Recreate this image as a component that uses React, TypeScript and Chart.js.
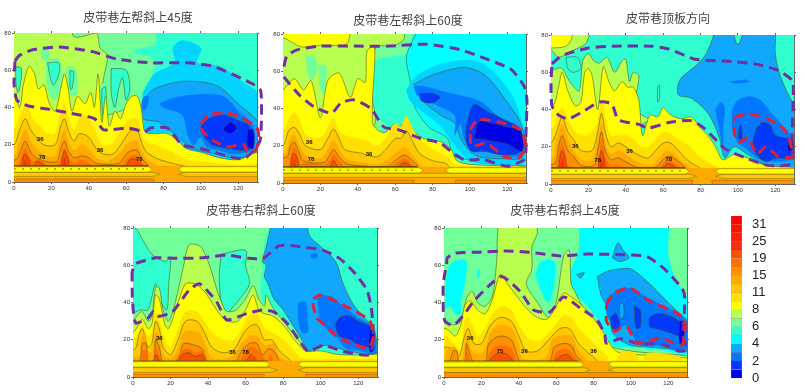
import React, { useEffect, useRef } from "react";
import { Chart, registerables } from "chart.js";

Chart.register(...registerables);

type Layer = [number, number[]];

const bandColors = ["#0000e6", "#0038ff", "#0078ff", "#10a8ff", "#00ffff", "#30ffd0", "#70ff98", "#b8ff50", "#ffff00", "#ffe000", "#ffc800", "#ffaa00", "#ff9000", "#ff7000", "#ff5000", "#f03010", "#ff2000", "#ff1000", "#ff0000", "#00d4ff"];
const contourBands = [0, 1, 3, 5, 7, 8, 10, 12, 14];
const legendTicks = ["0", "2", "4", "6", "8", "11", "15", "19", "25", "31"];
const xTop = 130;
const yTop = 80;

const full = [-8, -8, 138, -8, 138, 88, -8, 88, -8, -8];

const p1Layers: Layer[] = [
  [5, full],
  [19, [69, 48, 75, 58, 86, 64, 85, 72, 90, 76, 100, 72, 98, 64, 110, 62, 122, 54, 132, 46, 133, 25, 128, 10, 115, 9, 100, 12, 90, 18, 84, 26, 75, 26, 68, 24, 69, 48]],
  [3, [69, 44, 75, 50, 90, 54, 108, 52, 120, 42, 132, 30, 132, 16, 118, 13, 108, 15, 96, 18, 88, 24, 78, 32, 69, 34, 68, 40, 69, 44]],
  [2, [78, 42, 85, 45, 98, 47, 112, 46, 120, 38, 128, 30, 128, 18, 118, 15, 110, 17, 103, 19, 100, 24, 96, 20, 93, 25, 90, 36, 80, 40, 78, 42]],
  [2, [69, 38, 69, 45, 72, 46, 71, 40, 69, 38]],
  [1, [100, 30, 104, 34, 112, 36, 120, 33, 126, 30, 128, 20, 124, 17, 115, 18, 106, 20, 102, 24, 100, 30]],
  [0, [113, 30, 116, 32, 119, 29, 116, 26, 112, 28, 113, 30]],
  [0, [125, 28, 128, 28, 128, 18, 125, 19, 125, 28]],
  [6, [-8, 88, 69, 88, 76, 75, 63, 70, 75, 66, 74, 58, 68, 46, 69, 26, 60, 8, -8, 8, -8, 88]],
  [7, [-8, 88, 30, 88, 32, 78, 44, 80, 46, 72, 50, 68, 48, 56, 46, 36, 66, 40, 66, 30, 40, 20, -8, 20, -8, 88]],
  [6, [17, 66, 24, 66, 26, 55, 22, 44, 18, 50, 17, 66]],
  [6, [28, 62, 33, 61, 34, 48, 31, 46, 28, 50, 28, 62]],
  [6, [46, 52, 50, 53, 50, 38, 48, 32, 46, 40, 46, 52]],
  [6, [50, 63, 61, 64, 68, 60, 66, 44, 60, 40, 54, 38, 50, 48, 50, 63]],
  [6, [15, 72, 19, 70, 18, 66, 15, 66, 15, 72]],
  [5, [1, 62, 4, 61, 3, 50, 2, 48, 1, 54, 1, 62]],
  [5, [18, 64, 24, 64, 24, 58, 21, 52, 19, 58, 18, 64]],
  [5, [30, 60, 32, 59, 31, 50, 30, 50, 30, 60]],
  [5, [47, 50, 49, 51, 49, 40, 48, 34, 47, 42, 47, 50]],
  [5, [52, 61, 60, 60, 62, 50, 60, 44, 58, 56, 56, 50, 54, 40, 52, 48, 52, 61]],
  [8, [-8, 30, 0, 46, 3, 40, 5, 52, 8, 62, 11, 58, 13, 50, 16, 52, 19, 42, 22, 38, 25, 50, 27, 58, 29, 50, 31, 38, 34, 46, 38, 42, 41, 48, 43, 40, 45, 58, 47, 32, 49, 46, 51, 30, 54, 38, 57, 34, 60, 42, 63, 46, 66, 46, 68, 40, 70, 27, 75, 26, 82, 26, 88, 22, 92, 18, 100, 16, 110, 13, 120, 12, 130, 16, 138, 16, 138, 5, -8, 5, -8, 30]],
  [9, [-8, 22, 0, 28, 4, 38, 7, 42, 10, 34, 14, 30, 18, 26, 22, 26, 25, 38, 27, 42, 29, 36, 32, 28, 36, 36, 40, 34, 44, 26, 47, 20, 52, 20, 56, 26, 60, 32, 63, 34, 66, 34, 68, 28, 70, 22, 75, 20, 85, 16, 92, 12, 100, 11, 120, 9, 138, 10, 138, 5, -8, 5, -8, 22]],
  [10, [-8, 18, 0, 20, 3, 28, 6, 34, 9, 28, 12, 24, 16, 20, 22, 20, 25, 30, 27, 34, 29, 28, 32, 22, 35, 26, 40, 24, 44, 18, 48, 15, 53, 15, 57, 20, 61, 26, 63, 28, 66, 28, 68, 22, 71, 16, 78, 12, 85, 10, 92, 8, 85, 5, -8, 5, -8, 18]],
  [11, [-8, 14, 0, 14, 3, 22, 6, 28, 9, 22, 12, 18, 17, 14, 22, 14, 25, 24, 27, 28, 29, 22, 32, 17, 36, 20, 40, 18, 44, 13, 50, 11, 56, 15, 60, 20, 63, 22, 66, 22, 68, 17, 71, 12, 76, 9, 70, 6, -8, 6, -8, 14]],
  [12, [-8, 12, 1, 12, 4, 18, 6, 22, 9, 16, 12, 13, 17, 11, 23, 11, 25, 18, 27, 22, 29, 17, 32, 13, 36, 14, 40, 13, 44, 10, 56, 10, 60, 15, 63, 17, 66, 17, 68, 13, 71, 9, 60, 7, -8, 7, -8, 12]],
  [13, [2, 8, 4, 14, 6, 18, 8, 14, 10, 11, 14, 12, 18, 9, 24, 10, 26, 15, 27, 18, 29, 14, 32, 10, 36, 12, 40, 10, 44, 8, 58, 8, 60, 12, 63, 14, 66, 14, 69, 8, 2, 8]],
  [14, [4, 8, 5, 14, 6, 15, 8, 12, 8, 8, 4, 8]],
  [14, [11, 8, 12, 11, 15, 10, 17, 8, 11, 8]],
  [14, [25, 8, 26, 14, 27, 17, 29, 12, 29, 8, 25, 8]],
  [14, [60, 8, 62, 12, 66, 12, 68, 8, 60, 8]],
  [15, [26, 9, 27, 13, 28, 9, 26, 9]],
  [15, [5, 9, 6, 12, 7, 9, 5, 9]],
];
const p1Stripes: Layer[] = [
  [11, [-8, -8, 138, -8, 138, 8.6, -8, 8.6, -8, -8]],
  [10, [-8, 3, 74, 3, 78, 4.2, 74, 5.2, -8, 5.2, -8, 3]],
  [10, [92, 3, 138, 3, 138, 5.2, 92, 5.2, 88, 4.2, 92, 3]],
  [8, [-8, 5.4, 72, 5.4, 74, 6.8, 72, 8.2, -8, 8.2, -8, 5.4]],
  [8, [90, 5.4, 138, 5.4, 138, 8.2, 90, 8.2, 88, 6.8, 90, 5.4]],
  [12, [-8, -8, 72, -8, 75, 1.5, -8, 1.5, -8, -8]],
];
const p1Purple = [0.5, 65, 3, 68, 10, 71, 24, 72.5, 42, 70, 55, 66, 73, 64, 93, 64, 107, 62, 127, 53, 132, 49, 132, 24, 130, 19, 123, 12.5, 114, 14, 100, 18, 90, 20, 82, 29, 73, 29, 70, 27, 61, 29, 48, 28, 43, 34, 30, 37, 19, 39, 7, 41, 1.5, 44, 0, 53, 0.5, 65];
const p1Red = [100, 31, 104, 36, 114, 37, 121, 35, 130, 29, 131, 22, 129, 17, 125, 16, 123, 20, 114, 19, 107, 22, 101, 27, 100, 31];
const p1Notes: [string, number, number][] = [["36", 14, 23], ["78", 15, 13], ["36", 46, 17], ["78", 67, 12]];

const p2Layers: Layer[] = [
  [4, full],
  [5, [-8, 88, 72, 88, 66, 68, 68, 55, 70, 42, 78, 30, 88, 24, 92, 14, 138, 8, -8, 5, -8, 88]],
  [6, [-8, 88, 68, 88, 66, 70, 60, 68, 50, 66, 47, 58, 48, 45, 51, 35, 55, 30, -8, 5, -8, 88]],
  [7, [-8, 88, 62, 88, 65, 78, 60, 74, 50, 73, 48, 66, 47, 50, 48, 30, -8, 5, -8, 88]],
  [6, [12, 68, 17, 68, 18, 60, 15, 55, 13, 60, 12, 68]],
  [6, [19, 63, 23, 63, 22, 48, 20, 50, 19, 63]],
  [8, [-8, 88, 35, 88, 35, 76, 32, 74, 20, 74, 10, 73, 0, 78, -8, 78, -8, 88]],
  [19, [66, 50, 72, 58, 85, 64, 100, 66, 110, 62, 122, 48, 128, 32, 130, 18, 128, 10, 110, 10, 100, 12, 92, 20, 85, 30, 75, 38, 68, 44, 66, 50]],
  [3, [70, 53, 80, 58, 90, 61, 98, 62, 108, 58, 118, 46, 128, 30, 128, 14, 118, 13, 105, 14, 100, 17, 95, 24, 92, 32, 85, 36, 75, 44, 70, 53]],
  [2, [70, 52, 75, 52, 90, 48, 105, 44, 115, 36, 127, 29, 128, 15, 118, 15, 108, 17, 102, 18, 97, 24, 95, 32, 92, 26, 92, 36, 82, 42, 72, 47, 70, 52]],
  [1, [73, 48, 80, 48, 84, 46, 80, 43, 74, 44, 73, 48]],
  [1, [98, 30, 102, 42, 110, 38, 118, 34, 127, 29, 127, 17, 118, 15, 108, 17, 101, 17, 98, 22, 98, 30]],
  [0, [102, 24, 105, 33, 112, 32, 120, 30, 127, 28, 128, 17, 120, 21, 110, 23, 103, 24, 102, 24]],
  [8, [-8, 45, 0, 50, 6, 56, 11, 50, 15, 55, 20, 35, 24, 55, 30, 59, 36, 46, 40, 56, 44, 54, 45, 71, 49, 73, 48, 32, 54, 27, 60, 32, 62, 30, 66, 33, 68, 30, 75, 24, 85, 22, 90, 18, 93, 12, 100, 10, 138, 8, 138, 4, -8, 4, -8, 45]],
  [9, [-8, 26, 0, 28, 3, 34, 6, 38, 9, 34, 12, 26, 18, 24, 22, 26, 25, 32, 27, 35, 29, 30, 32, 26, 40, 24, 46, 22, 50, 20, 55, 24, 60, 32, 63, 30, 66, 36, 69, 30, 73, 24, 80, 18, 88, 14, 92, 10, 138, 8, 138, 5, -8, 5, -8, 26]],
  [10, [-8, 18, 0, 20, 3, 28, 6, 30, 9, 26, 12, 20, 20, 18, 24, 24, 27, 29, 30, 24, 33, 18, 42, 16, 50, 14, 55, 18, 60, 24, 63, 24, 66, 28, 69, 23, 73, 16, 80, 12, 88, 10, 88, 5, -8, 5, -8, 18]],
  [11, [-8, 16, 1, 16, 4, 24, 6, 26, 8, 22, 12, 15, 20, 13, 24, 18, 27, 23, 30, 18, 34, 13, 42, 11, 50, 10, 55, 12, 60, 16, 65, 19, 69, 15, 73, 10, 75, 7, -8, 7, -8, 16]],
  [12, [-8, 14, 2, 14, 4, 20, 6, 22, 8, 18, 11, 12, 22, 11, 25, 15, 27, 18, 30, 14, 35, 10, 56, 9, 60, 12, 65, 15, 69, 12, 72, 9, 60, 7, -8, 7, -8, 14]],
  [13, [3, 8, 5, 18, 6, 19, 8, 15, 9, 10, 13, 11, 22, 9.5, 25, 12, 27, 15, 30, 12, 34, 8, 57, 8, 60, 10, 65, 13, 69, 10, 71, 8, 3, 8]],
  [14, [4, 8, 5, 15, 6, 16, 8, 12, 8, 8, 4, 8]],
  [14, [25, 8, 27, 12, 29, 8, 25, 8]],
  [14, [61, 8, 65, 11, 69, 8, 61, 8]],
  [15, [5, 8, 6, 12, 7, 8, 5, 8]],
];
const p2Stripes: Layer[] = [
  [11, [-8, -8, 138, -8, 138, 8.6, -8, 8.6, -8, -8]],
  [10, [-8, 3, 138, 3, 138, 5.2, -8, 5.2, -8, 3]],
  [8, [-8, 5.4, 73, 5.4, 75, 6.8, 73, 8.2, -8, 8.2, -8, 5.4]],
  [8, [89, 5.4, 138, 5.4, 138, 8.2, 89, 8.2, 87, 6.8, 89, 5.4]],
  [12, [-8, -8, 68, -8, 70, 1.5, -8, 1.5, -8, -8]],
  [12, [94, -8, 138, -8, 138, 1.5, 92, 1.5, 94, -8]],
];
const p2Purple = [0.5, 62.5, 2, 68, 7.5, 71.5, 20, 73.5, 38, 73.5, 56, 73.5, 77, 74.5, 95, 71.5, 109, 66.5, 122, 61, 129, 52, 130.5, 44.6, 130, 27, 130, 18, 129, 12.5, 120, 9, 107.5, 12.5, 97, 12.5, 91, 16, 84, 21.5, 73.5, 24, 62, 28.5, 54, 30, 47, 40, 38, 44.6, 31, 43, 26, 37.5, 16.5, 41, 9, 47, 0.4, 57];
const p2Red = [100, 28.5, 104, 34, 114.6, 33, 127, 28.5, 130, 19.6, 126, 13.4, 118, 14.3, 109, 21.4, 101, 19.6, 100, 28.5];
const p2Notes: [string, number, number][] = [["36", 14, 22], ["78", 15, 12.5], ["36", 46, 15.5]];

const p3Layers: Layer[] = [
  [5, full],
  [3, [88, 88, 87, 80, 83, 70, 78, 64, 69, 56, 68, 48, 75, 46, 84, 38, 90, 25, 93, 14, 98, 20, 105, 16, 115, 10, 130, 8, 138, 10, 138, 30, 128, 46, 122, 60, 120, 70, 119, 88, 106, 88, 100, 75, 95, 88, 88, 88]],
  [5, [57, 52, 58, 53, 58, 46, 57, 44, 57, 52]],
  [2, [88, 40, 91, 44, 93, 40, 92, 30, 92, 20, 90, 30, 88, 40]],
  [2, [97, 40, 100, 45, 106, 47, 112, 45, 118, 38, 125, 30, 130, 24, 130, 14, 120, 12, 112, 13, 108, 16, 103, 20, 100, 22, 97, 30, 97, 40]],
  [2, [96, 55, 104, 56, 106, 55, 98, 54, 96, 55]],
  [1, [110, 30, 113, 33, 117, 32, 120, 26, 128, 24, 130, 20, 130, 14, 120, 14, 115, 12, 110, 16, 108, 22, 110, 30]],
  [1, [100, 25, 101, 32, 102, 30, 102, 23, 100, 25]],
  [0, [127, 24, 129, 24, 129, 18, 127, 18, 127, 24]],
  [7, [-8, 88, 20, 88, 19, 76, 10, 71, 4, 68, 0, 72, -8, 72, -8, 88]],
  [5, [8, 68, 14, 68, 16, 62, 12, 60, 9, 62, 8, 68]],
  [7, [-8, 40, 0, 60, 3, 62, 6, 62, 10, 55, 15, 50, 17, 66, 20, 70, 23, 66, 26, 65, 30, 68, 34, 60, 38, 66, 40, 67, 42, 55, 44, 60, 47, 58, 45, 40, 52, 34, -8, 5, -8, 40]],
  [8, [-8, 88, 11, 88, 11, 78, 8, 74, 0, 73, -8, 73, -8, 88]],
  [8, [-8, 42, 1, 42, 4, 52, 6, 60, 9, 50, 13, 42, 16, 44, 18, 60, 20, 62, 22, 58, 25, 40, 28, 63, 31, 55, 34, 50, 38, 55, 41, 52, 44, 52, 47, 45, 49, 26, 53, 37, 57, 36, 60, 41, 63, 38, 66, 36, 70, 35, 75, 36, 80, 30, 84, 26, 88, 20, 92, 13, 98, 16, 105, 14, 115, 10, 138, 8, 138, 4, -8, 4, -8, 42]],
  [9, [-8, 30, 1, 30, 3, 36, 6, 41, 9, 35, 13, 28, 18, 26, 22, 28, 25, 34, 27, 45, 29, 36, 32, 26, 36, 26, 40, 26, 44, 24, 48, 20, 52, 20, 56, 24, 60, 28, 64, 27, 68, 24, 72, 22, 78, 16, 85, 11, 90, 8, 80, 5, -8, 5, -8, 30]],
  [10, [-8, 20, 0, 22, 3, 28, 6, 36, 9, 28, 12, 24, 16, 18, 22, 18, 25, 28, 27, 38, 29, 28, 32, 20, 36, 22, 40, 20, 46, 16, 52, 14, 56, 18, 60, 22, 64, 22, 68, 18, 74, 12, 80, 8, 70, 5, -8, 5, -8, 20]],
  [11, [-8, 14, 1, 14, 3, 24, 6, 32, 9, 24, 12, 18, 16, 13, 22, 13, 25, 24, 27, 32, 29, 22, 32, 16, 36, 18, 40, 16, 46, 12, 54, 10, 58, 14, 62, 18, 66, 16, 70, 12, 74, 9, 60, 7, -8, 7, -8, 14]],
  [12, [-8, 11, 2, 11, 4, 20, 6, 26, 9, 18, 12, 15, 16, 10, 23, 10, 25, 18, 27, 28, 29, 18, 32, 13, 36, 14, 40, 12, 46, 9, 56, 9, 60, 13, 63, 15, 67, 13, 71, 9, 60, 7, -8, 7, -8, 11]],
  [13, [3, 8, 5, 20, 6, 22, 8, 16, 9, 10, 24, 8, 26, 16, 27, 24, 29, 15, 32, 10, 36, 10, 42, 8, 57, 8, 60, 11, 63, 13, 66, 11, 70, 8, 3, 8]],
  [14, [4, 8, 5, 16, 6, 18, 8, 12, 8, 8, 4, 8]],
  [14, [25, 8, 27, 18, 29, 8, 25, 8]],
  [14, [59, 8, 63, 11, 67, 8, 59, 8]],
  [15, [5, 8, 6, 14, 7, 8, 5, 8]],
  [15, [26, 8, 27, 13, 28, 8, 26, 8]],
];
const p3Stripes: Layer[] = [
  [11, [-8, -8, 138, -8, 138, 8.6, -8, 8.6, -8, -8]],
  [10, [-8, 3, 74, 3, 78, 4.2, 74, 5.2, -8, 5.2, -8, 3]],
  [10, [92, 3, 138, 3, 138, 5.2, 92, 5.2, 88, 4.2, 92, 3]],
  [8, [-8, 5.4, 72, 5.4, 74, 6.8, 72, 8.2, -8, 8.2, -8, 5.4]],
  [8, [90, 5.4, 138, 5.4, 138, 8.2, 90, 8.2, 88, 6.8, 90, 5.4]],
  [12, [-8, -8, 72, -8, 76, 2, -8, 2, -8, -8]],
  [12, [88, -8, 138, -8, 138, 2, 86, 2, 88, -8]],
];
const p3Purple = [0.5, 64.5, 6, 69, 20, 73, 32.5, 74, 54, 74, 63, 72.5, 77, 67, 93, 66, 109, 64.5, 121.5, 61, 129.5, 54.6, 129, 27, 128.6, 11, 116, 10, 105.5, 13.5, 93, 19, 82.4, 29.6, 75, 34, 63, 33, 52, 30, 47, 32, 36, 34.5, 32.5, 43, 26, 44, 18, 39.5, 9.4, 35, 4, 37, 0.5, 42, 0, 54, 0.5, 64.5];
const p3Red = [98.4, 36, 105.5, 37.7, 116, 35, 125, 29, 128.6, 20, 129, 14.5, 121.5, 15, 115, 20, 110, 16, 105.5, 25, 101, 22.5, 98, 27, 98.4, 36];
const p3Notes: [string, number, number][] = [["36", 13, 20], ["78", 25, 12.5], ["36", 42, 17.5], ["78", 63, 13]];

const p4Layers: Layer[] = [
  [5, full],
  [6, [-8, 88, 72, 88, 70, 72, 69, 60, 68, 45, 72, 36, 78, 33, 90, 18, -8, 5, -8, 88]],
  [5, [-8, 80, 1, 80, 5, 74, 10, 66, 17, 62, 20, 64, 19, 50, 18, 36, 14, 42, 12, 50, 8, 36, 4, 36, -8, 32, -8, 80]],
  [5, [47, 66, 60, 68, 60, 60, 62, 50, 57, 42, 52, 36, 50, 32, 47, 40, 46, 55, 47, 66]],
  [3, [75, 88, 91, 88, 94, 76, 100, 70, 108, 62, 112, 50, 118, 38, 125, 30, 129, 24, 130, 12, 126, 12, 114, 14, 103, 17, 93, 14, 91, 18, 85, 28, 80, 36, 75, 42, 72, 50, 70, 54, 71, 60, 69, 62, 71, 70, 75, 88]],
  [2, [98, 42, 101, 44, 106, 43, 112, 38, 120, 32, 128, 26, 129, 12, 122, 14, 114, 15, 108, 22, 104, 25, 100, 30, 98, 42]],
  [2, [88, 40, 92, 40, 93, 30, 93, 24, 90, 24, 88, 32, 88, 40]],
  [2, [95, 66, 98, 66, 98, 64, 95, 64, 95, 66]],
  [1, [110, 32, 115, 33, 120, 30, 128, 26, 128, 18, 122, 16, 116, 20, 110, 22, 108, 28, 110, 32]],
  [0, [126, 25, 128, 26, 128, 14, 126, 14, 126, 25]],
  [7, [-8, 24, 0, 30, 3, 34, 5, 35, 8, 30, 10, 32, 12, 48, 14, 48, 16, 36, 19, 30, 23, 42, 27, 60, 30, 71, 36, 70, 40, 62, 42, 56, 45, 46, 49, 36, 51, 35, 55, 36, 60, 42, 64, 49, 67, 42, 70, 38, 71, 44, 74, 38, 80, 30, 88, 20, 92, 14, 60, 5, -8, 5, -8, 24]],
  [8, [-8, 22, 0, 24, 3, 28, 5, 31, 8, 26, 10, 28, 12, 44, 14, 42, 17, 28, 19, 26, 24, 40, 28, 50, 33, 50, 38, 46, 42, 40, 46, 34, 50, 30, 56, 30, 60, 36, 64, 44, 67, 36, 70, 34, 74, 33, 80, 28, 86, 20, 92, 14, 100, 14, 110, 12, 125, 12, 138, 12, 138, 4, -8, 4, -8, 22]],
  [9, [-8, 18, 0, 20, 3, 24, 5, 28, 8, 22, 10, 24, 12, 34, 14, 30, 17, 20, 20, 16, 24, 26, 28, 35, 34, 35, 38, 30, 42, 24, 48, 20, 54, 20, 58, 26, 62, 33, 66, 34, 70, 26, 74, 24, 80, 20, 86, 14, 90, 10, 138, 9, 138, 4, -8, 4, -8, 18]],
  [10, [-8, 14, 1, 15, 3, 22, 5, 26, 8, 16, 10, 18, 12, 30, 14, 26, 16, 16, 20, 12, 24, 20, 28, 30, 34, 30, 38, 24, 42, 16, 48, 13, 54, 15, 58, 22, 62, 27, 66, 28, 70, 20, 74, 20, 78, 14, 84, 8, 70, 5, -8, 5, -8, 14]],
  [11, [-8, 11, 3, 11, 4, 20, 6, 23, 8, 14, 10, 13, 12, 24, 14, 22, 16, 12, 20, 10, 24, 15, 27, 24, 35, 24, 39, 16, 42, 10, 50, 10, 54, 12, 58, 18, 62, 22, 66, 22, 70, 17, 75, 18, 78, 11, 82, 8, 60, 6, -8, 6, -8, 11]],
  [12, [4, 8, 5, 18, 7, 18, 8, 8, 11, 8, 12, 20, 14, 16, 16, 8, 22, 8, 25, 12, 27, 18, 33, 17, 37, 15, 40, 8, 54, 8, 58, 14, 62, 18, 66, 18, 69, 12, 72, 15, 75, 14, 77, 8, 4, 8]],
  [13, [5, 8, 5, 14, 7, 14, 7, 8, 5, 8]],
  [13, [11, 8, 12, 16, 14, 12, 15, 8, 11, 8]],
  [13, [23, 8, 26, 14, 30, 15, 33, 13, 37, 14, 39, 8, 23, 8]],
  [13, [57, 8, 60, 14, 63, 16, 67, 14, 70, 8, 57, 8]],
  [13, [72, 8, 73, 12, 75, 8, 72, 8]],
  [14, [11, 8, 12, 12, 14, 8, 11, 8]],
  [14, [24, 8, 26, 12, 30, 13, 33, 11, 37, 12, 38, 8, 24, 8]],
  [14, [60, 8, 63, 12, 66, 8, 60, 8]],
];
const p4Stripes: Layer[] = [
  [11, [-8, -8, 138, -8, 138, 8.6, -8, 8.6, -8, -8]],
  [10, [-8, 2.5, 73, 2.5, 77, 3.8, 73, 5, -8, 5, -8, 2.5]],
  [10, [92, 2.5, 138, 2.5, 138, 5, 92, 5, 88, 3.8, 92, 2.5]],
  [8, [-8, 5.4, 71, 5.4, 73, 6.8, 71, 8.2, -8, 8.2, -8, 5.4]],
  [8, [90, 5.4, 138, 5.4, 138, 8.2, 90, 8.2, 88, 6.8, 90, 5.4]],
  [12, [-8, -8, 68, -8, 70, 1.5, -8, 1.5, -8, -8]],
  [12, [94, -8, 138, -8, 138, 1.5, 92, 1.5, 94, -8]],
];
const p4Purple = [-0.5, 56.6, -0.3, 42, 1.4, 29, 8, 31.6, 10.7, 35, 13, 32.5, 21, 35, 30, 46.8, 35.6, 50, 44.5, 40.5, 50, 30.7, 60.5, 34, 69, 36, 75, 35, 82, 29, 89, 19, 93.4, 13.7, 101.4, 17, 112, 13.7, 126, 12, 128, 22.7, 127, 37, 124.6, 46.8, 117.4, 56.6, 110, 63.7, 101.4, 68, 89, 70, 78, 70.5, 69.4, 63.7, 61.4, 63.7, 50, 65.5, 37.4, 64, 23, 63.7, 12.5, 64, 1.8, 61, -0.5, 56.6];
const p4Red = [96, 42, 99.6, 44, 108.5, 40.5, 119, 35, 126.3, 30, 128, 21, 125.4, 15.5, 114, 19, 108.5, 21.8, 103, 27, 98, 31.6, 96, 38.7, 96, 42];
const p4Notes: [string, number, number][] = [["36", 14, 21], ["36", 53, 13], ["78", 60, 13]];

const p5Layers: Layer[] = [
  [6, full],
  [4, [-8, 30, 0, 36, 1, 50, 3, 60, 8, 63, 12, 62, 11, 50, 9, 40, 9, 34, 6, 34, 3, 38, -8, 30]],
  [4, [49, 55, 52, 62, 59, 62, 59, 51, 56, 40, 52, 46, 49, 55]],
  [4, [18, 58, 19, 57, 19, 54, 18, 53, 18, 58]],
  [4, [72, 88, 72, 67, 67, 55, 69, 46, 76, 39, 84, 28, 90, 17, 100, 16, 120, 14, 130, 12, 131, 40, 128, 46, 124, 52, 120, 65, 118, 88, 72, 88]],
  [3, [82, 54, 88, 57, 94, 58, 100, 58, 108, 52, 116, 44, 124, 36, 130, 30, 130, 14, 122, 15, 110, 16, 100, 17, 94, 20, 90, 24, 88, 36, 84, 44, 82, 54]],
  [3, [90, 64, 93, 72, 96, 68, 99, 64, 94, 62, 90, 64]],
  [3, [71, 55, 75, 56, 73, 53, 71, 55]],
  [2, [87, 42, 92, 46, 97, 48, 103, 46, 110, 42, 118, 38, 127, 33, 130, 28, 130, 16, 125, 14, 115, 17, 105, 17, 100, 24, 97, 28, 94, 26, 90, 28, 87, 34, 87, 42]],
  [3, [94, 40, 96, 39, 96, 32, 94, 32, 94, 40]],
  [1, [89, 32, 92, 34, 94, 28, 92, 25, 90, 26, 89, 32]],
  [1, [102, 38, 105, 36, 105, 27, 103, 26, 102, 32, 102, 38]],
  [1, [110, 32, 114, 34, 120, 33, 126, 30, 129, 28, 128, 22, 120, 24, 114, 26, 110, 27, 110, 32]],
  [0, [126, 30, 128, 30, 128, 18, 126, 18, 126, 30]],
  [7, [-8, 26, 0, 29, 5, 28, 9, 30, 12, 42, 15, 46, 18, 40, 22, 38, 26, 44, 28, 60, 31, 88, 46, 88, 50, 78, 47, 70, 47, 58, 44, 50, 50, 40, 56, 32, 60, 40, 64, 65, 67, 68, 68, 50, 70, 46, 74, 38, 82, 28, 90, 16, 138, 10, 138, 4, -8, 4, -8, 26]],
  [8, [-8, 24, 1, 26, 6, 22, 9, 28, 11, 38, 14, 41, 18, 36, 22, 34, 26, 42, 30, 55, 34, 50, 40, 42, 45, 36, 50, 32, 55, 31, 60, 38, 64, 45, 68, 43, 72, 40, 78, 34, 84, 26, 90, 16, 94, 13, 138, 9, 138, 4, -8, 4, -8, 24]],
  [9, [-8, 20, 1, 22, 5, 18, 9, 14, 11, 30, 13, 32, 18, 22, 22, 26, 26, 34, 31, 38, 36, 36, 40, 28, 46, 20, 52, 20, 58, 26, 64, 33, 68, 32, 72, 26, 78, 20, 84, 14, 88, 10, 70, 5, -8, 5, -8, 20]],
  [9, [92, 8, 94, 13, 102, 13, 104, 9, 92, 8]],
  [9, [106, 9, 110, 13, 126, 11, 127, 9, 106, 9]],
  [10, [-8, 14, 1, 16, 5, 15, 8, 11, 11, 22, 13, 26, 16, 18, 20, 18, 25, 28, 30, 32, 36, 30, 40, 22, 44, 14, 50, 14, 56, 20, 62, 26, 67, 26, 72, 18, 76, 14, 82, 8, 70, 5, -8, 5, -8, 14]],
  [11, [0, 8, 2, 15, 6, 16, 9, 8, 11, 16, 12, 22, 15, 14, 21, 13, 25, 24, 30, 28, 36, 26, 40, 18, 42, 10, 54, 10, 58, 20, 62, 22, 68, 22, 72, 14, 76, 8, 0, 8]],
  [12, [3, 8, 5, 14, 7, 14, 8, 8, 11, 8, 12, 18, 14, 12, 16, 8, 22, 8, 24, 18, 30, 22, 36, 20, 39, 12, 41, 8, 56, 8, 59, 16, 64, 18, 68, 17, 71, 11, 74, 8, 3, 8]],
  [13, [11, 8, 12, 14, 14, 8, 11, 8]],
  [13, [23, 8, 25, 14, 30, 17, 36, 15, 38, 8, 23, 8]],
  [13, [58, 8, 60, 13, 65, 15, 68, 13, 71, 8, 58, 8]],
  [14, [24, 8, 26, 11, 30, 13, 34, 12, 37, 8, 24, 8]],
  [14, [59, 8, 62, 11, 66, 12, 69, 8, 59, 8]],
];
const p5Stripes: Layer[] = [
  [11, [-8, -8, 138, -8, 138, 8.6, -8, 8.6, -8, -8]],
  [10, [-8, 2.5, 75, 2.5, 78, 3.8, 75, 5, -8, 5, -8, 2.5]],
  [10, [92, 2.5, 138, 2.5, 138, 5, 92, 5, 88, 3.8, 92, 2.5]],
  [8, [-8, 5.4, 73, 5.4, 75, 6.8, 73, 8, -8, 8, -8, 5.4]],
  [8, [90, 5.4, 138, 5.4, 138, 8.2, 90, 8.2, 88, 6.8, 90, 5.4]],
  [12, [-8, -8, 138, -8, 138, 2.4, -8, 2.4, -8, -8]],
];
const p5Purple = [-0.4, 35, -0.4, 50, 1.4, 61, 1.8, 64, 6, 66.5, 19, 67, 33.6, 67.7, 46, 67, 62, 65, 76.4, 66, 99.6, 65.5, 108.6, 64.6, 117.5, 58.4, 128.2, 46, 128.6, 35, 127.7, 22.7, 130, 14.6, 125.5, 14, 117.5, 17.3, 103.2, 18.2, 94.3, 20.5, 86.8, 18.2, 86, 22.7, 81.8, 30.7, 72.9, 37, 64, 43, 56.8, 35, 47.9, 36, 40.7, 46, 31, 54, 24.6, 49.5, 15.7, 40.5, 11.3, 34.3, 5, 27.7, 0.5, 30, -0.4, 35];
const p5Red = [87, 38.8, 90.7, 45, 99.6, 47.7, 110.4, 40.5, 124.7, 34.3, 129, 29, 127.3, 17.3, 115.7, 20.9, 103.2, 18.2, 97.9, 27.1, 94.3, 26.3, 91.6, 24.5, 87, 29.8, 87, 38.8];
const p5Notes: [string, number, number][] = [["36", 14, 21], ["75", 30, 14], ["36", 43, 14], ["36", 80, 14]];

const panels = [
  { title: "皮带巷左帮斜上45度", box: [14, 257, 33, 182], cx: 138, ty: 17, layers: p1Layers, stripes: p1Stripes, purple: p1Purple, red: p1Red, notes: p1Notes, dotted: true },
  { title: "皮带巷左帮斜上60度", box: [283, 526, 34, 183], cx: 408, ty: 20, layers: p2Layers, stripes: p2Stripes, purple: p2Purple, red: p2Red, notes: p2Notes, dotted: true },
  { title: "皮带巷顶板方向", box: [551, 794, 35, 184], cx: 668, ty: 18, layers: p3Layers, stripes: p3Stripes, purple: p3Purple, red: p3Red, notes: p3Notes, dotted: true },
  { title: "皮带巷右帮斜上60度", box: [133, 377, 228, 377], cx: 261, ty: 210, layers: p4Layers, stripes: p4Stripes, purple: p4Purple, red: p4Red, notes: p4Notes, dotted: false },
  { title: "皮带巷右帮斜上45度", box: [444, 687, 228, 377], cx: 565, ty: 210, layers: p5Layers, stripes: p5Stripes, purple: p5Purple, red: p5Red, notes: p5Notes, dotted: false },
];

const toPoints = (flat: number[]) => {
  const out: { x: number; y: number }[] = [];
  for (let i = 0; i < flat.length; i += 2) out.push({ x: flat[i], y: flat[i + 1] });
  return out;
};

const lineColor = "rgba(70,70,15,0.75)";
const fontSans = "'Liberation Sans', Arial, sans-serif";
const CW = 300;

function Panel({ p }: { p: (typeof panels)[number] }) {
  const ref = useRef<HTMLCanvasElement>(null);
  const [l, r, t, b] = p.box;
  const cLeft = p.cx - CW / 2;
  const cTop = p.ty - 8;
  const cH = b + 14 - cTop;
  useEffect(() => {
    const areaDs = (layer: Layer, smooth: boolean) => {
      const lined = contourBands.includes(layer[0]);
      return {
        type: "scatter" as const,
        data: toPoints(layer[1]),
        showLine: true,
        pointRadius: 0,
        fill: "shape",
        tension: smooth ? 0.3 : 0,
        backgroundColor: bandColors[layer[0]],
        borderColor: lined ? lineColor : bandColors[layer[0]],
        borderWidth: lined ? (smooth ? 0.7 : 0.45) : 0.3,
      };
    };
    const datasets: any[] = [
      ...p.layers.map((x) => areaDs(x, true)),
      ...p.stripes.map((x) => areaDs(x, false)),
      { type: "scatter", data: toPoints([-8, 8.7, 72, 8.7]), showLine: true, pointRadius: 0, borderColor: lineColor, borderWidth: p.dotted ? 1.6 : 0.8, fill: false },
    ];
    if (p.dotted) {
      datasets.push({ type: "scatter", data: toPoints([0, 7, 72, 7]), showLine: true, pointRadius: 0, borderColor: lineColor, borderWidth: 1, borderDash: [2, 6], fill: false });
    }
    datasets.push(
      { type: "scatter", data: toPoints(p.purple), showLine: true, pointRadius: 0, tension: 0.2, borderColor: "#7030a0", borderWidth: 3, borderDash: [10, 6], fill: false, clip: false },
      { type: "scatter", data: toPoints(p.red), showLine: true, pointRadius: 0, tension: 0.2, borderColor: "#e0203c", borderWidth: 3, borderDash: [10, 6], fill: false, clip: false },
    );
    datasets.forEach((d, i) => (d.order = -i));
    const textPlugin = {
      id: "panelText",
      afterDatasetsDraw(chart: any) {
        const { ctx, scales } = chart;
        ctx.save();
        ctx.font = `bold 6px ${fontSans}`;
        ctx.fillStyle = "#111";
        ctx.textAlign = "center";
        ctx.textBaseline = "middle";
        for (const [s, x, y] of p.notes) ctx.fillText(s, scales.x.getPixelForValue(x), scales.y.getPixelForValue(y));
        ctx.font = "12px 'Noto Sans CJK SC', 'Liberation Sans', sans-serif";
        ctx.fillStyle = "#444";
        ctx.fillText(p.title, p.cx - cLeft, p.ty - cTop);
        ctx.restore();
      },
    };
    const tickFont = { size: 6, family: fontSans };
    const chart = new Chart(ref.current as HTMLCanvasElement, {
      type: "scatter",
      data: { datasets },
      plugins: [textPlugin],
      options: {
        responsive: false,
        animation: false,
        events: [],
        layout: {
          autoPadding: false,
          padding: { left: l - cLeft - 14, right: cLeft + CW - r - 2, top: t - cTop - 2, bottom: cH - (b - cTop) - 12 },
        },
        plugins: {
          legend: { display: false },
          tooltip: { enabled: false },
          title: { display: false },
        },
        scales: {
          x: {
            type: "linear", min: 0, max: xTop,
            afterFit: (s: any) => { s.height = 12; },
            ticks: { stepSize: 20, includeBounds: false, font: tickFont, color: "#333", padding: 1, maxRotation: 0 },
            grid: { drawOnChartArea: false, tickLength: 2, color: "#666" },
            border: { color: "#666" },
          },
          y: {
            type: "linear", min: 0, max: yTop,
            afterFit: (s: any) => { s.width = 14; },
            ticks: { stepSize: 20, font: tickFont, color: "#333", padding: 1 },
            grid: { drawOnChartArea: false, tickLength: 2, color: "#666" },
            border: { color: "#666" },
          },
          xTopAxis: {
            type: "linear", position: "top", min: 0, max: xTop,
            afterFit: (s: any) => { s.height = 2; },
            ticks: { stepSize: 20, includeBounds: false, display: false },
            grid: { drawOnChartArea: false, tickLength: 2, color: "#666" },
            border: { color: "#666" },
          },
          yRightAxis: {
            type: "linear", position: "right", min: 0, max: yTop,
            afterFit: (s: any) => { s.width = 2; },
            ticks: { stepSize: 20, display: false },
            grid: { drawOnChartArea: false, tickLength: 2, color: "#666" },
            border: { color: "#666" },
          },
        },
      } as any,
    });
    return () => chart.destroy();
  }, []);
  return <canvas ref={ref} width={CW} height={cH} style={{ position: "absolute", left: cLeft, top: cTop, display: "block", filter: "blur(0.45px)" }} />;
}

function ColorBar() {
  const ref = useRef<HTMLCanvasElement>(null);
  useEffect(() => {
    const bands = bandColors.slice(0, 19);
    const chart = new Chart(ref.current as HTMLCanvasElement, {
      type: "bar",
      data: {
        labels: ["scale"],
        datasets: bands.map((c) => ({ data: [1], backgroundColor: c, borderColor: "rgba(120,40,20,0.45)", borderWidth: 0.5, barPercentage: 1, categoryPercentage: 1 })),
      },
      options: {
        responsive: false,
        animation: false,
        events: [],
        layout: { autoPadding: false, padding: { left: 0, right: 0, top: 2, bottom: 10 } },
        plugins: { legend: { display: false }, tooltip: { enabled: false } },
        scales: {
          x: { stacked: true, display: false },
          y: {
            stacked: true, position: "right", min: 0, max: 19,
            afterFit: (s: any) => { s.width = 34; },
            ticks: {
              stepSize: 2, includeBounds: false, padding: 2, autoSkip: false,
              font: { size: 13, family: fontSans }, color: "#222",
              callback: (v: any) => legendTicks[Number(v) / 2],
            },
            grid: { display: false },
            border: { display: false },
          },
        },
      } as any,
    });
    return () => chart.destroy();
  }, []);
  return <canvas ref={ref} width={45} height={182} style={{ position: "absolute", left: 731, top: 206, display: "block", filter: "blur(0.3px)" }} />;
}

export default function App() {
  return (
    <div style={{ position: "absolute", left: 0, top: 0, width: 805, height: 392, background: "#fff", overflow: "hidden" }}>
      {panels.map((p) => <Panel key={p.title} p={p} />)}
      <ColorBar />
    </div>
  );
}
